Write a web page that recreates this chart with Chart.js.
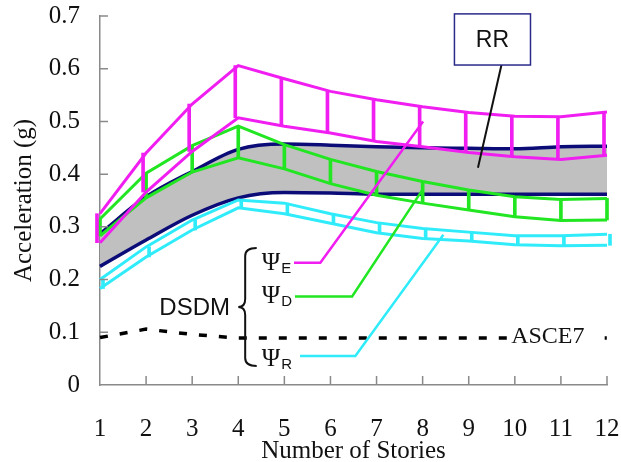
<!DOCTYPE html>
<html>
<head>
<meta charset="utf-8">
<script src="https://cdn.jsdelivr.net/npm/chart.js@4.4.0/dist/chart.umd.min.js"></script>
<style>
  body { margin: 0; background: #fff; }
  canvas { display: block; }
</style>
</head>
<body>
<canvas id="myChart" width="621" height="462"></canvas>
<script>
const stories = [1, 2, 3, 4, 5, 6, 7, 8, 9, 10, 11, 12]
const yTicks = [0, 0.1, 0.2, 0.3, 0.4, 0.5, 0.6, 0.7]

const psiEUpper = [0.325, 0.44, 0.533, 0.606, 0.581, 0.557, 0.541, 0.528, 0.517, 0.51, 0.509, 0.518]
const psiELower = [0.27, 0.366, 0.443, 0.507, 0.491, 0.478, 0.462, 0.452, 0.441, 0.433, 0.428, 0.436]
const psiDUpper = [0.315, 0.402, 0.454, 0.491, 0.456, 0.428, 0.405, 0.386, 0.37, 0.357, 0.352, 0.354]
const psiDLower = [0.283, 0.355, 0.404, 0.431, 0.41, 0.382, 0.36, 0.345, 0.332, 0.319, 0.312, 0.313]
const rrUpper = [0.287, 0.357, 0.405, 0.447, 0.457, 0.455, 0.452, 0.45, 0.449, 0.448, 0.452, 0.453]
const rrLower = [0.225, 0.275, 0.322, 0.355, 0.365, 0.364, 0.362, 0.362, 0.362, 0.362, 0.362, 0.362]
const psiRUpper = [0.2, 0.262, 0.313, 0.351, 0.345, 0.325, 0.308, 0.297, 0.29, 0.283, 0.283, 0.286]
const psiRLower = [0.183, 0.243, 0.294, 0.336, 0.325, 0.307, 0.289, 0.278, 0.273, 0.266, 0.264, 0.265]
const asce7 = [0.09, 0.106, 0.096, 0.089, 0.089, 0.089, 0.089, 0.089, 0.089, 0.089, 0.089, 0.089]

const magenta = '#f01ef0'
const green = '#22e622'
const navy = '#0c0c78'
const cyan = '#30ecfa'
const axisGray = '#8a8a8a'
const serif = "'Liberation Serif', 'Times New Roman', serif"
const sans = "'Liberation Sans', Arial, sans-serif"

const points = (values) => stories.map((s, i) => ({ x: s, y: values[i] }))

const lineSet = (label, values, color, order, extra) => ({
    type: 'line',
    label: label,
    data: points(values),
    borderColor: color,
    backgroundColor: color,
    borderWidth: 3,
    pointRadius: 0,
    tension: 0,
    fill: false,
    clip: false,
    order: order,
    ...extra
})

const rungSet = (label, low, high, color, order) => ({
    type: 'bar',
    label: label,
    data: stories.map((s, i) => ({ x: s, y: [low[i], high[i]] })),
    backgroundColor: color,
    borderWidth: 0,
    barThickness: 3,
    clip: false,
    order: order
})

// leader lines, labels and the brace, placed in data units
const leaders = [
    { color: magenta, pts: [[5.21, 0.232], [5.78, 0.232], [8.01, 0.5]] },
    { color: green, pts: [[5.23, 0.168], [6.47, 0.168], [8.01, 0.372]] },
    { color: cyan, pts: [[5.34, 0.055], [6.54, 0.055], [8.45, 0.285]] }
]
const psiLabels = [
    { sub: 'E', x: 4.91, y: 0.218 },
    { sub: 'D', x: 4.91, y: 0.156 },
    { sub: 'R', x: 4.91, y: 0.036 }
]
const brace = { tipX: 4.4, spineX: 4.15, cuspX: 4.0, top: 0.26, mid: 0.148, bottom: 0.036 }
const rrBox = { x1: 8.69, x2: 10.34, y1: 0.704, y2: 0.607, leadFrom: [9.71, 0.607], leadTo: [9.2, 0.412] }

const annotations = {
    id: 'annotations',
    afterDatasetsDraw(chart) {
        const ctx = chart.ctx
        const xs = chart.scales.x
        const ys = chart.scales.y
        const X = v => xs.getPixelForValue(v)
        const Y = v => ys.getPixelForValue(v)
        ctx.save()

        // inward tick marks
        ctx.strokeStyle = axisGray
        ctx.lineWidth = 1.5
        ctx.beginPath()
        stories.slice(1).forEach(s => {
            ctx.moveTo(X(s), ys.bottom)
            ctx.lineTo(X(s), ys.bottom - 9)
        })
        yTicks.slice(1).forEach(t => {
            ctx.moveTo(xs.left, Y(t))
            ctx.lineTo(xs.left + 8, Y(t))
        })
        ctx.stroke()

        // ASCE7 label over the dashed line
        ctx.fillStyle = '#fff'
        ctx.fillRect(X(9.85), Y(0.115), X(11.95) - X(9.85), Y(0.075) - Y(0.115))
        ctx.fillStyle = '#111'
        ctx.font = '24px ' + serif
        ctx.textAlign = 'left'
        ctx.textBaseline = 'alphabetic'
        ctx.fillText('ASCE7', X(9.92), Y(0.0803))

        // leader lines
        ctx.lineWidth = 2.5
        ctx.lineJoin = 'miter'
        leaders.forEach(l => {
            ctx.strokeStyle = l.color
            ctx.beginPath()
            l.pts.forEach((p, i) => i === 0 ? ctx.moveTo(X(p[0]), Y(p[1])) : ctx.lineTo(X(p[0]), Y(p[1])))
            ctx.stroke()
        })

        // psi labels
        ctx.fillStyle = '#111'
        psiLabels.forEach(p => {
            ctx.font = '25px ' + serif
            ctx.textAlign = 'right'
            ctx.fillText('\u03A8', X(p.x), Y(p.y))
            ctx.font = '15px ' + sans
            ctx.textAlign = 'left'
            ctx.fillText(p.sub, X(p.x) + 1, Y(p.y) + 3)
        })

        // DSDM and brace
        ctx.font = '24px ' + sans
        ctx.textAlign = 'right'
        ctx.fillText('DSDM', X(3.82), Y(0.1328))
        const tx = X(brace.tipX), sx = X(brace.spineX), cx = X(brace.cuspX)
        const top = Y(brace.top), mid = Y(brace.mid), bot = Y(brace.bottom)
        const r = 8
        ctx.strokeStyle = '#111'
        ctx.lineWidth = 2
        ctx.beginPath()
        ctx.moveTo(tx, top)
        ctx.quadraticCurveTo(sx, top, sx, top + r)
        ctx.lineTo(sx, mid - r)
        ctx.quadraticCurveTo(sx, mid, cx, mid)
        ctx.quadraticCurveTo(sx, mid, sx, mid + r)
        ctx.lineTo(sx, bot - r)
        ctx.quadraticCurveTo(sx, bot, tx, bot)
        ctx.stroke()

        // RR box
        ctx.strokeStyle = '#111'
        ctx.lineWidth = 2
        ctx.beginPath()
        ctx.moveTo(X(rrBox.leadFrom[0]), Y(rrBox.leadFrom[1]))
        ctx.lineTo(X(rrBox.leadTo[0]), Y(rrBox.leadTo[1]))
        ctx.stroke()
        ctx.fillStyle = '#fff'
        ctx.fillRect(X(rrBox.x1), Y(rrBox.y1), X(rrBox.x2) - X(rrBox.x1), Y(rrBox.y2) - Y(rrBox.y1))
        ctx.strokeStyle = '#2a2a8a'
        ctx.lineWidth = 1.5
        ctx.strokeRect(X(rrBox.x1), Y(rrBox.y1), X(rrBox.x2) - X(rrBox.x1), Y(rrBox.y2) - Y(rrBox.y1))
        ctx.fillStyle = '#111'
        ctx.font = '23px ' + sans
        ctx.textAlign = 'center'
        ctx.textBaseline = 'middle'
        ctx.fillText('RR', (X(rrBox.x1) + X(rrBox.x2)) / 2, (Y(rrBox.y1) + Y(rrBox.y2)) / 2 + 1)

        ctx.restore()
    }
}

const ctx = document.getElementById('myChart')
const myChart = new Chart(ctx, {
    type: 'line',
    data: {
        datasets: [
            lineSet('ASCE7', asce7, '#000', 6, { borderDash: [8, 12], borderWidth: 3.5 }),
            lineSet('RR upper', rrUpper, navy, 5, { borderWidth: 3.5, cubicInterpolationMode: 'monotone' }),
            lineSet('RR lower', rrLower, navy, 5, { borderWidth: 3.5, cubicInterpolationMode: 'monotone', fill: '-1', backgroundColor: '#c0c0c0' }),
            lineSet('Psi R upper', psiRUpper, cyan, 4),
            lineSet('Psi R lower', psiRLower, cyan, 4),
            rungSet('Psi R', psiRLower, psiRUpper, cyan, 4),
            lineSet('Psi D upper', psiDUpper, green, 3),
            lineSet('Psi D lower', psiDLower, green, 3),
            rungSet('Psi D', psiDLower, psiDUpper, green, 3),
            lineSet('Psi E upper', psiEUpper, magenta, 2),
            lineSet('Psi E lower', psiELower, magenta, 2),
            rungSet('Psi E', psiELower, psiEUpper, magenta, 2)
        ]
    },
    options: {
        responsive: false,
        animation: false,
        devicePixelRatio: 1,
        layout: { padding: { top: 16, right: 14, left: 0, bottom: 0 } },
        plugins: {
            legend: { display: false },
            tooltip: { enabled: false }
        },
        scales: {
            x: {
                type: 'linear',
                min: 1,
                max: 12,
                offset: false,
                afterFit: scale => {
                    scale.height = 77
                    scale.paddingLeft = 0
                    scale.paddingRight = 0
                },
                grid: { display: false, drawTicks: false },
                border: { display: true, color: axisGray, width: 1.5 },
                ticks: {
                    stepSize: 1,
                    padding: 29,
                    color: '#111',
                    font: { family: serif, size: 25 }
                },
                title: {
                    display: true,
                    text: 'Number of Stories',
                    color: '#111',
                    font: { family: serif, size: 25, lineHeight: 1 },
                    padding: { top: 0, bottom: -2 }
                }
            },
            y: {
                min: 0,
                max: 0.7,
                afterFit: scale => {
                    scale.width = 100
                    scale.paddingTop = 0
                    scale.paddingBottom = 0
                },
                grid: { display: false, drawTicks: false },
                border: { display: true, color: axisGray, width: 1.5 },
                ticks: {
                    stepSize: 0.1,
                    padding: 20,
                    color: '#111',
                    font: { family: serif, size: 25 }
                },
                title: {
                    display: true,
                    text: 'Acceleration (g)',
                    color: '#111',
                    font: { family: serif, size: 25, lineHeight: 1 },
                    padding: { top: 12, bottom: 0 }
                }
            }
        }
    },
    plugins: [annotations]
})
</script>
</body>
</html>
